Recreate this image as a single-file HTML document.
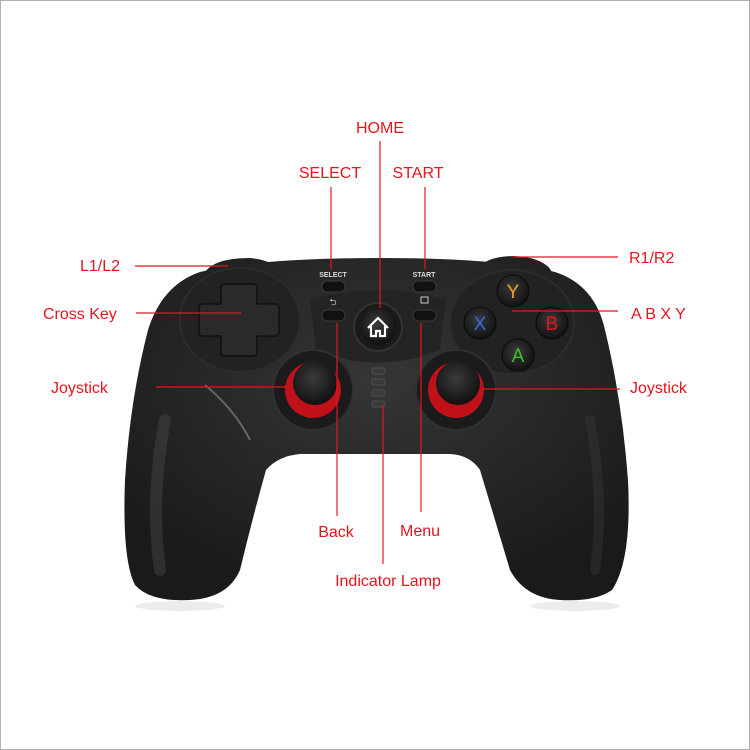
<!DOCTYPE html>
<html><head><style>
html,body{margin:0;padding:0;background:#fff;}
svg{display:block;}
text{font-family:"Liberation Sans",Arial,sans-serif;font-size:16px;fill:#e8141c;}
</style></head><body>
<svg width="750" height="750" viewBox="0 0 750 750">
<rect x="0.5" y="0.5" width="749" height="749" fill="#fff" stroke="#b0b0b0"/>
<defs>
<radialGradient id="body" cx="50%" cy="35%" r="65%">
<stop offset="0" stop-color="#363636"/><stop offset="1" stop-color="#1a1a1a"/>
</radialGradient>
<radialGradient id="btn" cx="45%" cy="40%" r="60%">
<stop offset="0" stop-color="#3a3a3a"/><stop offset="1" stop-color="#111"/>
</radialGradient>
</defs>
<ellipse cx="180" cy="606" rx="45" ry="5" fill="#ececec"/>
<ellipse cx="575" cy="606" rx="45" ry="5" fill="#ececec"/>
<path d="M205,272 Q215,258 250,258 Q270,260 278,268 Z" fill="#222"/>
<path d="M478,268 Q488,256 515,256 Q545,258 552,272 Z" fill="#222"/>
<path d="M200,272 Q260,258 378,258 Q500,258 555,272 Q595,285 605,330 Q622,400 628,480 Q632,560 612,590 Q595,602 560,600 Q525,598 510,570 Q495,520 480,470 Q470,455 450,454 L300,454 Q278,456 266,470 Q252,520 240,570 Q228,598 190,600 Q150,602 135,585 Q122,560 125,480 Q130,400 148,330 Q162,285 200,272 Z" fill="url(#body)"/>
<path d="M165,420 Q150,500 160,570" stroke="#444" stroke-width="12" fill="none" stroke-linecap="round" opacity="0.5"/>
<path d="M590,420 Q605,500 595,570" stroke="#3a3a3a" stroke-width="10" fill="none" stroke-linecap="round" opacity="0.4"/>
<ellipse cx="240" cy="320" rx="60" ry="52" fill="#222" stroke="#2c2c2c" stroke-width="2"/>
<ellipse cx="512" cy="322" rx="62" ry="52" fill="#222" stroke="#2c2c2c" stroke-width="2"/>
<path d="M310,300 Q378,280 446,300 L440,350 Q378,375 316,350 Z" fill="#242424"/>
<path d="M205,385 Q235,410 250,440" stroke="#666" stroke-width="2" fill="none"/>
<path d="M225,284 h28 q4,0 4,4 v16 h18 q4,0 4,4 v24 q0,4 -4,4 h-18 v16 q0,4 -4,4 h-28 q-4,0 -4,-4 v-16 h-18 q-4,0 -4,-4 v-24 q0,-4 4,-4 h18 v-16 q0,-4 4,-4 Z" fill="#2a2a2a" stroke="#111" stroke-width="1.5"/>
<circle cx="313" cy="390" r="40" fill="#1b1b1b" stroke="#303030" stroke-width="2"/>
<circle cx="313" cy="390" r="28" fill="#c0101a"/>
<circle cx="315" cy="383" r="22" fill="url(#btn)"/>
<circle cx="456" cy="390" r="40" fill="#1b1b1b" stroke="#303030" stroke-width="2"/>
<circle cx="456" cy="390" r="28" fill="#c0101a"/>
<circle cx="458" cy="383" r="22" fill="url(#btn)"/>
<circle cx="513" cy="291" r="16" fill="url(#btn)" stroke="#0a0a0a"/>
<text x="513" y="298" text-anchor="middle" style="fill:#f0a020;font-size:19px">Y</text>
<circle cx="480" cy="323" r="16" fill="url(#btn)" stroke="#0a0a0a"/>
<text x="480" y="330" text-anchor="middle" style="fill:#2a6ee8;font-size:19px">X</text>
<circle cx="552" cy="323" r="16" fill="url(#btn)" stroke="#0a0a0a"/>
<text x="552" y="330" text-anchor="middle" style="fill:#e8141c;font-size:19px">B</text>
<circle cx="518" cy="355" r="16" fill="url(#btn)" stroke="#0a0a0a"/>
<text x="518" y="362" text-anchor="middle" style="fill:#40c030;font-size:19px">A</text>
<circle cx="378" cy="327" r="24" fill="#1a1a1a" stroke="#333" stroke-width="2"/>
<circle cx="378" cy="327" r="18" fill="url(#btn)"/>
<path d="M368,328 L378,318 L388,328 M371,326 V336 H376 V331 H380 V336 H385 V326" stroke="#fff" stroke-width="2.2" fill="none"/>
<text x="333" y="277" text-anchor="middle" style="fill:#ddd;font-size:7px;font-weight:bold">SELECT</text>
<text x="424" y="277" text-anchor="middle" style="fill:#ddd;font-size:7px;font-weight:bold">START</text>
<rect x="322" y="281" width="23" height="11" rx="5" fill="#111" stroke="#3a3a3a"/>
<rect x="413" y="281" width="23" height="11" rx="5" fill="#111" stroke="#3a3a3a"/>
<rect x="322" y="310" width="23" height="11" rx="5" fill="#111" stroke="#3a3a3a"/>
<rect x="413" y="310" width="23" height="11" rx="5" fill="#111" stroke="#3a3a3a"/>
<text x="333" y="305" text-anchor="middle" style="fill:#ccc;font-size:9px">⮌</text>
<rect x="421" y="297" width="7" height="6" fill="none" stroke="#ccc" stroke-width="1"/>
<rect x="372" y="368" width="13" height="6" rx="2" fill="#3a3a3a" stroke="#555" stroke-width="0.8"/>
<rect x="372" y="379" width="13" height="6" rx="2" fill="#3a3a3a" stroke="#555" stroke-width="0.8"/>
<rect x="372" y="390" width="13" height="6" rx="2" fill="#3a3a3a" stroke="#555" stroke-width="0.8"/>
<rect x="372" y="401" width="13" height="6" rx="2" fill="#3a3a3a" stroke="#555" stroke-width="0.8"/>
<g stroke="#e8141c" stroke-width="1.2">
<line x1="380" y1="141" x2="380" y2="308"/>
<line x1="331" y1="187" x2="331" y2="269"/>
<line x1="425" y1="187" x2="425" y2="269"/>
<line x1="135" y1="266" x2="228" y2="266"/>
<line x1="513" y1="257" x2="618" y2="257"/>
<line x1="136" y1="313" x2="241" y2="313"/>
<line x1="512" y1="311" x2="618" y2="311"/>
<line x1="156" y1="387" x2="287" y2="387"/>
<line x1="482" y1="389" x2="620" y2="389"/>
<line x1="337" y1="323" x2="337" y2="516"/>
<line x1="421" y1="323" x2="421" y2="512"/>
<line x1="383" y1="405" x2="383" y2="564"/>
</g>
<text x="380" y="133" text-anchor="middle">HOME</text>
<text x="330" y="178" text-anchor="middle">SELECT</text>
<text x="418" y="178" text-anchor="middle">START</text>
<text x="80" y="271">L1/L2</text>
<text x="629" y="263">R1/R2</text>
<text x="43" y="319">Cross Key</text>
<text x="631" y="319">A B X Y</text>
<text x="51" y="393">Joystick</text>
<text x="630" y="393">Joystick</text>
<text x="336" y="537" text-anchor="middle">Back</text>
<text x="420" y="536" text-anchor="middle">Menu</text>
<text x="388" y="586" text-anchor="middle">Indicator Lamp</text>
</svg>
</body></html>
